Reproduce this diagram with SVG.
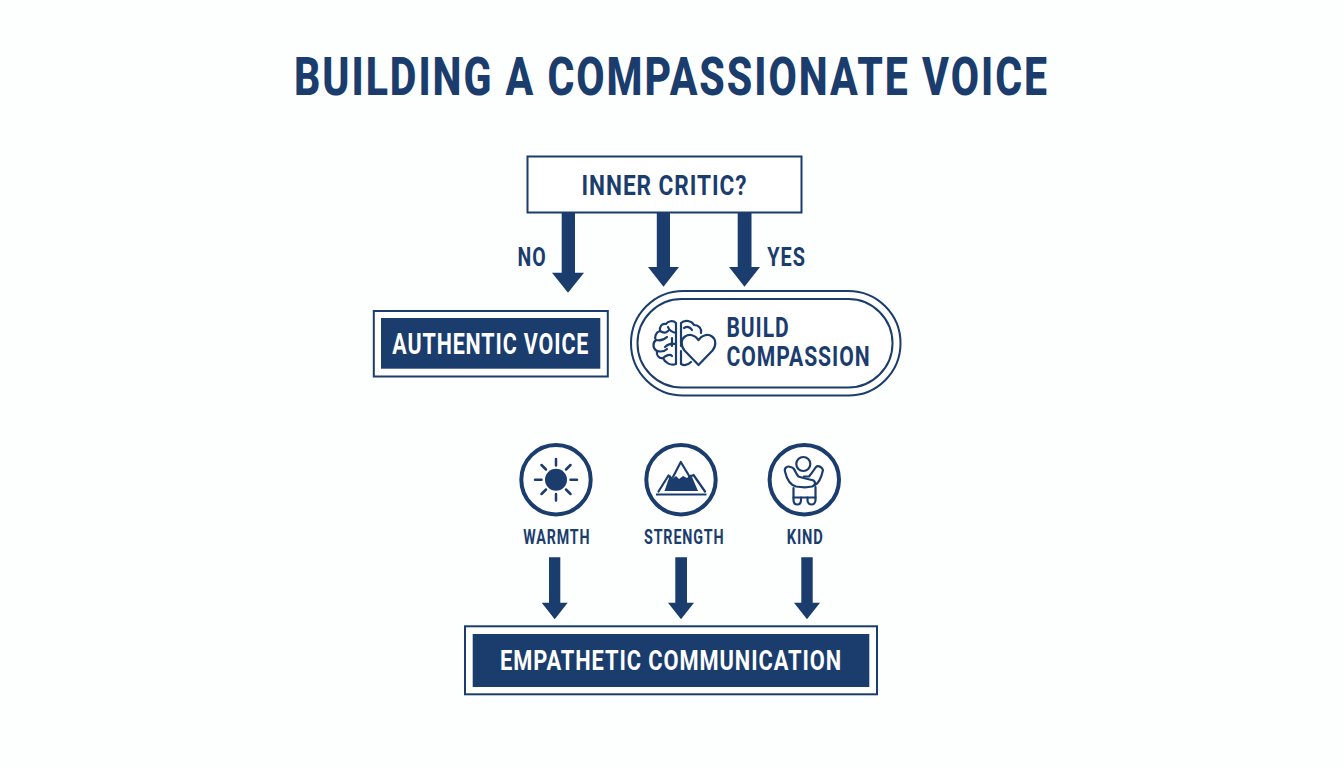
<svg xmlns="http://www.w3.org/2000/svg" width="1344" height="768" viewBox="0 0 1344 768">
<style>
text{font-family:"Roboto","Liberation Sans",sans-serif;font-weight:700;fill:#1a3d6d;letter-spacing:1.2px}
text.w{fill:#fff}
text.t{letter-spacing:2.6px;font-weight:800}
.box{fill:#fff;stroke:#1a3d6d;stroke-width:2}
.solid{fill:#1a3d6d}
.ln{fill:none;stroke:#1a3d6d;stroke-width:2.2;stroke-linecap:round;stroke-linejoin:round}
.ring{fill:#fff;stroke:#1a3d6d;stroke-width:4}
</style>
<rect width="1344" height="768" fill="#fdfefe"/>
<g id="title"><text class="t" x="294" y="95" font-size="54" textLength="755" lengthAdjust="spacingAndGlyphs">BUILDING A COMPASSIONATE VOICE</text></g>
<g id="connectors" class="solid">
<polygon points="561.7,212 575,212 575,272.7 584,272.7 568,292.7 552,272.7 561.7,272.7"/>
<polygon points="656.8,212 670,212 670,267 679,267 663.5,286.7 648,267 656.8,267"/>
<polygon points="737.7,212 751.5,212 751.5,267 760,267 744.5,286.7 729,267 737.7,267"/>
<polygon points="549,557.3 560.3,557.3 560.3,602.7 567.7,602.7 554.7,619.3 541.7,602.7 549,602.7"/>
<polygon points="675.3,557.3 687,557.3 687,602.7 694,602.7 681,619.3 668,602.7 675.3,602.7"/>
<polygon points="801.3,557.3 812.7,557.3 812.7,602.7 820,602.7 807,619.3 794,602.7 801.3,602.7"/>
</g>
<g id="label-no"><text x="517.5" y="265.8" font-size="25.5" textLength="29" lengthAdjust="spacingAndGlyphs">NO</text></g>
<g id="label-yes"><text x="767.3" y="265.8" font-size="25.5" textLength="38.5" lengthAdjust="spacingAndGlyphs">YES</text></g>
<g id="inner-critic">
<rect class="box" x="527.5" y="156.5" width="274" height="56"/>
<text x="581.5" y="194.8" font-size="28.5" textLength="166" lengthAdjust="spacingAndGlyphs">INNER CRITIC?</text>
</g>
<g id="authentic-voice">
<rect class="box" x="373.8" y="311" width="234" height="65.5"/>
<rect class="solid" x="381" y="318" width="219.3" height="50.7"/>
<text class="w" x="392.3" y="353.5" font-size="29" textLength="197" lengthAdjust="spacingAndGlyphs">AUTHENTIC VOICE</text>
</g>
<g id="build-compassion">
<rect class="box" x="631" y="291" width="269.5" height="104.5" rx="52.2"/>
<rect class="box" x="637.5" y="299" width="255" height="88.5" rx="44.2"/>
<g class="ln">
<path d="M676 323C673 320 668 321 666 324C662 323 659 327 660 331C656 332 654 337 656 340C652 343 653 349 657 351C656 355 659 359 663 358C665 363 671 366 676 364Z"/>
<path d="M676 333C672 332 669 330 668 327M660 331C663 333 666 333 668 331M656 340C661 341 665 339 667 337M676 344C672 343 668 344 665 347M657 351C661 352 665 351 667 349M663 358C666 355 670 354 672 356M672 338V346"/>
<path d="M681 346V323C685 319 692 321 694 325C699 325 702 329 701 333"/>
<path d="M684 328C687 326 690 327 692 330"/>
<path d="M681 351V364C684 366 688 365 691 362"/>
<path d="M698.5 365L684.5 350.500C680.5 346 681 339 685 336.500C689.5 333.500 695 335 698.5 340C702 335 708 333.500 712 336.500C716 339 716.5 346 712.5 350.500Z"/>
</g>
<text x="726.5" y="337" font-size="27" textLength="63" lengthAdjust="spacingAndGlyphs">BUILD</text>
<text x="726.5" y="366.2" font-size="27" textLength="144" lengthAdjust="spacingAndGlyphs">COMPASSION</text>
</g>
<g id="warmth">
<circle class="ring" cx="556" cy="479.7" r="34.7"/>
<circle class="solid" cx="556" cy="479.7" r="11"/>
<g class="ln" style="stroke-width:2.5"><path d="M556 459V465.500M556 494V500.500M535 479.7H541.500M570.500 479.7H577M541.500 465L546 469.500M566 489.500L570.500 494M541.500 494L546 489.500M566 469.500L570.500 465"/></g>
<text x="523.3" y="543.5" font-size="20" textLength="67" lengthAdjust="spacingAndGlyphs">WARMTH</text>
</g>
<g id="strength">
<circle class="ring" cx="681" cy="479.7" r="34.7"/>
<path class="solid" d="M664.5 491L670 475L673 478.500L676 476L679 479L683 476L687 478L691 474.500L698 491Z"/>
<path class="ln" d="M658.5 491.500L668.500 475.500L673 481M673 477L680.800 462L691 479M689 477L693.500 475L705 491.500"/>
<rect class="solid" x="656" y="493.5" width="50.5" height="2"/>
<text x="644" y="543.5" font-size="20" textLength="80.5" lengthAdjust="spacingAndGlyphs">STRENGTH</text>
</g>
<g id="kind">
<circle class="ring" cx="804.3" cy="479.7" r="34.7"/>
<g class="ln">
<circle cx="803.3" cy="464" r="7"/>
<path d="M790.5 467C787.500 465.500 784 468 785 471.500C786.500 478 790 485 796 486.500C802 487.500 808 487.500 812 486.500C816 485 816 481 812 480C806 478.500 802 478 798.500 476.500C796.500 475 795.500 471 793.500 468.500C792.800 467.800 791.500 467.300 790.500 467Z"/>
<path d="M804 476.5H809C811 474 814 470 816 467C818 465 822 467 823 470C821.500 477 819 483 815 485"/>
<path d="M793.5 488V497.500H815.500V487"/>
<path d="M793.5 497.500V500C793.500 506 801 506 801 500V497.500M807.500 497.500V500C807.500 506 815.500 506 815.500 500V497.500"/>
</g>
<text x="786.7" y="543.5" font-size="20" textLength="37" lengthAdjust="spacingAndGlyphs">KIND</text>
</g>
<g id="empathetic-communication">
<rect class="box" x="465" y="626.3" width="412" height="68"/>
<rect class="solid" x="472.7" y="634" width="396.6" height="53"/>
<text class="w" x="500" y="670.2" font-size="28" textLength="342" lengthAdjust="spacingAndGlyphs">EMPATHETIC COMMUNICATION</text>
</g>
</svg>
